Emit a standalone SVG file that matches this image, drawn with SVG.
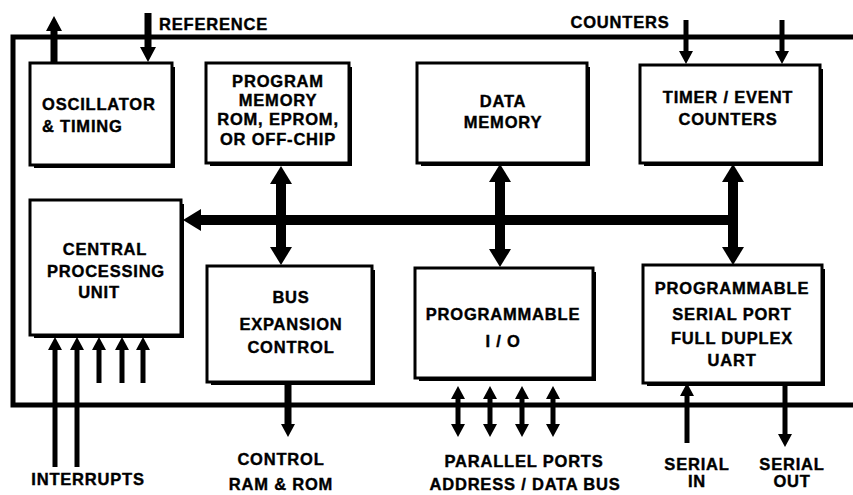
<svg xmlns="http://www.w3.org/2000/svg" width="853" height="495" viewBox="0 0 853 495">
<style>
.box{fill:#fff;stroke:#000;stroke-width:3}
.sh{fill:none;stroke:#000;stroke-width:4}
.t{font-family:"Liberation Sans",Arial,sans-serif;font-weight:bold;font-size:16.5px;letter-spacing:0.8px;fill:#000;stroke:#000;stroke-width:0.4;text-anchor:middle}
.ts{font-family:"Liberation Sans",Arial,sans-serif;font-weight:bold;font-size:16.5px;letter-spacing:0.8px;fill:#000;stroke:#000;stroke-width:0.4}
.bus{stroke:#000;stroke-width:10;fill:none}
.med{stroke:#000;stroke-width:7;fill:none}
.thin{stroke:#000;stroke-width:5;fill:none}
.chip{stroke:#000;stroke-width:5;fill:none}
</style>
<defs>
<marker id="hb" markerUnits="userSpaceOnUse" viewBox="0 -11 18 22" markerWidth="18" markerHeight="22" refX="1" refY="0" orient="auto-start-reverse"><path d="M0,-11 L18,0 L0,11 z" fill="#000"/></marker>
<marker id="hm" markerUnits="userSpaceOnUse" viewBox="0 -8 15 16" markerWidth="15" markerHeight="16" refX="1" refY="0" orient="auto-start-reverse"><path d="M0,-8 L15,0 L0,8 z" fill="#000"/></marker>
<marker id="hs" markerUnits="userSpaceOnUse" viewBox="0 -7 13 14" markerWidth="13" markerHeight="14" refX="1" refY="0" orient="auto-start-reverse"><path d="M0,-7 L13,0 L0,7 z" fill="#000"/></marker>
</defs>
<rect width="853" height="495" fill="#fff"/>
<g id="chip">
<path class="chip" d="M853,37 H13 V405 H853"/>
</g>
<g id="connectors">
<line class="med" x1="54" y1="63" x2="54" y2="30" marker-end="url(#hm)"/>
<line class="med" x1="148" y1="13" x2="148" y2="48" marker-end="url(#hm)"/>
<line class="thin" x1="686" y1="20" x2="686" y2="52" marker-end="url(#hs)"/>
<line class="thin" x1="782" y1="20" x2="782" y2="52" marker-end="url(#hs)"/>
<line class="bus" x1="281" y1="183" x2="281" y2="248" marker-start="url(#hb)" marker-end="url(#hb)"/>
<line class="bus" x1="500" y1="181" x2="500" y2="250" marker-start="url(#hb)" marker-end="url(#hb)"/>
<line class="bus" x1="733" y1="181" x2="733" y2="248" marker-start="url(#hb)" marker-end="url(#hb)"/>
<line class="bus" x1="738" y1="220" x2="200" y2="220" marker-end="url(#hb)"/>
<line class="med" x1="288" y1="382" x2="288" y2="425" marker-end="url(#hs)"/>
<line class="thin" x1="55" y1="467" x2="55" y2="349" marker-end="url(#hs)"/>
<line class="thin" x1="77" y1="467" x2="77" y2="349" marker-end="url(#hs)"/>
<line class="thin" x1="99" y1="383" x2="99" y2="349" marker-end="url(#hs)"/>
<line class="thin" x1="122" y1="383" x2="122" y2="349" marker-end="url(#hs)"/>
<line class="thin" x1="143" y1="383" x2="143" y2="349" marker-end="url(#hs)"/>
<line class="thin" x1="458" y1="398" x2="458" y2="425" marker-start="url(#hs)" marker-end="url(#hs)"/>
<line class="thin" x1="490" y1="398" x2="490" y2="425" marker-start="url(#hs)" marker-end="url(#hs)"/>
<line class="thin" x1="522" y1="398" x2="522" y2="425" marker-start="url(#hs)" marker-end="url(#hs)"/>
<line class="thin" x1="553" y1="398" x2="553" y2="425" marker-start="url(#hs)" marker-end="url(#hs)"/>
<line class="thin" x1="687" y1="443" x2="687" y2="395" marker-end="url(#hs)"/>
<line class="thin" x1="785" y1="383" x2="785" y2="435" marker-end="url(#hs)"/>
</g>
<g id="osc">
<rect class="box" x="30" y="63" width="142" height="102"/>
<path class="sh" d="M34,166 H173 V67"/>
<text class="ts" x="42" y="110">OSCILLATOR</text>
<text class="ts" x="42" y="132">&amp; TIMING</text>
</g>
<g id="progmem">
<rect class="box" x="206" y="63" width="143" height="100"/>
<path class="sh" d="M210,164 H350 V67"/>
<text class="t" x="278" y="87">PROGRAM</text>
<text class="t" x="278" y="106">MEMORY</text>
<text class="t" x="278" y="125">ROM, EPROM,</text>
<text class="t" x="278" y="145">OR OFF-CHIP</text>
</g>
<g id="datamem">
<rect class="box" x="417" y="63" width="170" height="100"/>
<path class="sh" d="M421,164 H588 V67"/>
<text class="t" x="503" y="107">DATA</text>
<text class="t" x="503" y="128">MEMORY</text>
</g>
<g id="timer">
<rect class="box" x="640" y="65" width="180" height="98"/>
<path class="sh" d="M644,164 H821 V69"/>
<text class="t" x="728" y="103">TIMER / EVENT</text>
<text class="t" x="728" y="125">COUNTERS</text>
</g>
<g id="cpu">
<rect class="box" x="30" y="200" width="151" height="135"/>
<path class="sh" d="M34,336 H182 V204"/>
<text class="t" x="105" y="255">CENTRAL</text>
<text class="t" x="106" y="277">PROCESSING</text>
<text class="t" x="99" y="298">UNIT</text>
</g>
<g id="busexp">
<rect class="box" x="207" y="266" width="165" height="116"/>
<path class="sh" d="M211,383 H373 V270"/>
<text class="t" x="291" y="303">BUS</text>
<text class="t" x="291" y="330">EXPANSION</text>
<text class="t" x="291" y="353">CONTROL</text>
</g>
<g id="pio">
<rect class="box" x="415" y="268" width="178" height="110"/>
<path class="sh" d="M419,379 H594 V272"/>
<text class="t" x="503" y="320">PROGRAMMABLE</text>
<text class="t" x="503" y="347">I / O</text>
</g>
<g id="serial">
<rect class="box" x="643" y="265" width="179" height="118"/>
<path class="sh" d="M647,384 H823 V269"/>
<text class="t" x="732" y="294">PROGRAMMABLE</text>
<text class="t" x="732" y="320">SERIAL PORT</text>
<text class="t" x="732" y="344">FULL DUPLEX</text>
<text class="t" x="732" y="366">UART</text>
</g>
<g id="labels">
<text class="ts" x="159" y="30">REFERENCE</text>
<text class="t" x="620" y="28">COUNTERS</text>
<text class="t" x="88" y="485">INTERRUPTS</text>
<text class="t" x="281" y="465">CONTROL</text>
<text class="t" x="281" y="490">RAM &amp; ROM</text>
<text class="t" x="524" y="467">PARALLEL PORTS</text>
<text class="t" x="525" y="490">ADDRESS / DATA BUS</text>
<text class="t" x="697" y="470">SERIAL</text>
<text class="t" x="697" y="487">IN</text>
<text class="t" x="792" y="470">SERIAL</text>
<text class="t" x="792" y="487">OUT</text>
</g>
</svg>
